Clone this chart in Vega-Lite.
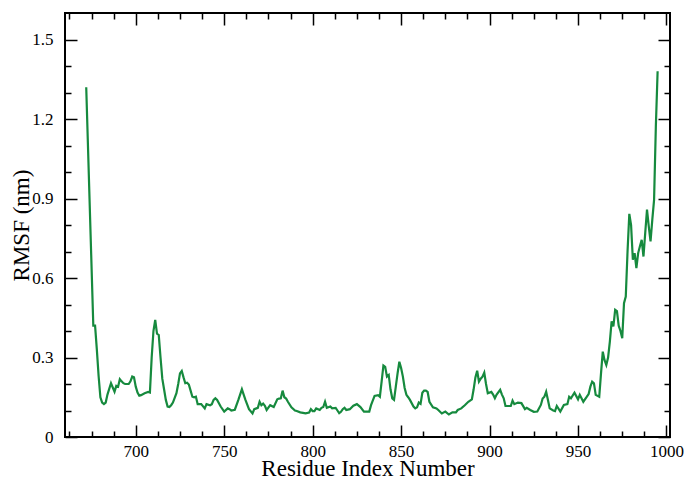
{
  "$schema": "https://vega.github.io/schema/vega-lite/v6.json",
  "autosize": "none",
  "padding": {"left": 65, "top": 13, "right": 16, "bottom": 42},
  "width": 605,
  "height": 424,
  "background": "white",
  "config": {
    "font": "Liberation Serif",
    "view": {"stroke": "black", "strokeWidth": 2},
    "axis": {"grid": false, "domain": false, "labelFont": "Liberation Serif", "titleFont": "Liberation Serif", "labelColor": "black", "titleColor": "black", "tickColor": "black", "labelFontSize": 17, "titleFontSize": 23, "titleFontWeight": "normal", "tickWidth": 1.5}
  },
  "data": {"values": [
    {"residue": 672, "rmsf": 1.32}, {"residue": 676, "rmsf": 0.42}, {"residue": 677, "rmsf": 0.42}, {"residue": 678, "rmsf": 0.33},
    {"residue": 679, "rmsf": 0.23}, {"residue": 680, "rmsf": 0.15}, {"residue": 681, "rmsf": 0.13}, {"residue": 682, "rmsf": 0.124},
    {"residue": 683, "rmsf": 0.13}, {"residue": 684, "rmsf": 0.16}, {"residue": 686, "rmsf": 0.203}, {"residue": 688, "rmsf": 0.171},
    {"residue": 689, "rmsf": 0.193}, {"residue": 690, "rmsf": 0.19}, {"residue": 691, "rmsf": 0.218}, {"residue": 692, "rmsf": 0.21},
    {"residue": 693, "rmsf": 0.203}, {"residue": 694, "rmsf": 0.2}, {"residue": 696, "rmsf": 0.2}, {"residue": 697, "rmsf": 0.21},
    {"residue": 698, "rmsf": 0.228}, {"residue": 699, "rmsf": 0.225}, {"residue": 700, "rmsf": 0.19}, {"residue": 701, "rmsf": 0.168},
    {"residue": 702, "rmsf": 0.156}, {"residue": 703, "rmsf": 0.158}, {"residue": 705, "rmsf": 0.165}, {"residue": 707, "rmsf": 0.17},
    {"residue": 708, "rmsf": 0.168}, {"residue": 709, "rmsf": 0.3}, {"residue": 710, "rmsf": 0.4}, {"residue": 711, "rmsf": 0.442},
    {"residue": 712, "rmsf": 0.39}, {"residue": 713, "rmsf": 0.385}, {"residue": 714, "rmsf": 0.3}, {"residue": 715, "rmsf": 0.22},
    {"residue": 716, "rmsf": 0.18}, {"residue": 717, "rmsf": 0.14}, {"residue": 718, "rmsf": 0.115}, {"residue": 719, "rmsf": 0.113},
    {"residue": 720, "rmsf": 0.12}, {"residue": 721, "rmsf": 0.13}, {"residue": 722, "rmsf": 0.148}, {"residue": 723, "rmsf": 0.165},
    {"residue": 724, "rmsf": 0.2}, {"residue": 725, "rmsf": 0.24}, {"residue": 726, "rmsf": 0.249}, {"residue": 727, "rmsf": 0.225},
    {"residue": 728, "rmsf": 0.203}, {"residue": 729, "rmsf": 0.205}, {"residue": 730, "rmsf": 0.198}, {"residue": 731, "rmsf": 0.175},
    {"residue": 732, "rmsf": 0.152}, {"residue": 733, "rmsf": 0.15}, {"residue": 734, "rmsf": 0.152}, {"residue": 735, "rmsf": 0.124},
    {"residue": 737, "rmsf": 0.124}, {"residue": 739, "rmsf": 0.108}, {"residue": 740, "rmsf": 0.124}, {"residue": 742, "rmsf": 0.12},
    {"residue": 743, "rmsf": 0.124}, {"residue": 744, "rmsf": 0.14}, {"residue": 745, "rmsf": 0.146}, {"residue": 746, "rmsf": 0.14},
    {"residue": 748, "rmsf": 0.115}, {"residue": 750, "rmsf": 0.096}, {"residue": 752, "rmsf": 0.108}, {"residue": 753, "rmsf": 0.105},
    {"residue": 754, "rmsf": 0.1}, {"residue": 756, "rmsf": 0.103}, {"residue": 758, "rmsf": 0.14}, {"residue": 760, "rmsf": 0.18},
    {"residue": 761, "rmsf": 0.16}, {"residue": 762, "rmsf": 0.14}, {"residue": 764, "rmsf": 0.105}, {"residue": 766, "rmsf": 0.089},
    {"residue": 767, "rmsf": 0.105}, {"residue": 769, "rmsf": 0.11}, {"residue": 770, "rmsf": 0.133}, {"residue": 771, "rmsf": 0.12},
    {"residue": 772, "rmsf": 0.126}, {"residue": 773, "rmsf": 0.118}, {"residue": 774, "rmsf": 0.102}, {"residue": 776, "rmsf": 0.12},
    {"residue": 778, "rmsf": 0.113}, {"residue": 780, "rmsf": 0.142}, {"residue": 781, "rmsf": 0.145}, {"residue": 782, "rmsf": 0.146},
    {"residue": 783, "rmsf": 0.175}, {"residue": 784, "rmsf": 0.15}, {"residue": 785, "rmsf": 0.145}, {"residue": 786, "rmsf": 0.133},
    {"residue": 788, "rmsf": 0.112}, {"residue": 790, "rmsf": 0.1}, {"residue": 791, "rmsf": 0.098}, {"residue": 793, "rmsf": 0.093},
    {"residue": 796, "rmsf": 0.089}, {"residue": 798, "rmsf": 0.092}, {"residue": 799, "rmsf": 0.105}, {"residue": 800, "rmsf": 0.098},
    {"residue": 801, "rmsf": 0.098}, {"residue": 802, "rmsf": 0.108}, {"residue": 804, "rmsf": 0.102}, {"residue": 805, "rmsf": 0.11},
    {"residue": 806, "rmsf": 0.113}, {"residue": 807, "rmsf": 0.133}, {"residue": 808, "rmsf": 0.11}, {"residue": 810, "rmsf": 0.115},
    {"residue": 811, "rmsf": 0.108}, {"residue": 813, "rmsf": 0.11}, {"residue": 814, "rmsf": 0.1}, {"residue": 815, "rmsf": 0.09},
    {"residue": 816, "rmsf": 0.095}, {"residue": 817, "rmsf": 0.105}, {"residue": 818, "rmsf": 0.11}, {"residue": 819, "rmsf": 0.102},
    {"residue": 821, "rmsf": 0.105}, {"residue": 823, "rmsf": 0.118}, {"residue": 825, "rmsf": 0.124}, {"residue": 827, "rmsf": 0.113},
    {"residue": 829, "rmsf": 0.096}, {"residue": 832, "rmsf": 0.096}, {"residue": 833, "rmsf": 0.12}, {"residue": 835, "rmsf": 0.155},
    {"residue": 837, "rmsf": 0.158}, {"residue": 838, "rmsf": 0.152}, {"residue": 839, "rmsf": 0.21}, {"residue": 840, "rmsf": 0.27},
    {"residue": 841, "rmsf": 0.265}, {"residue": 842, "rmsf": 0.228}, {"residue": 843, "rmsf": 0.234}, {"residue": 844, "rmsf": 0.18},
    {"residue": 845, "rmsf": 0.146}, {"residue": 846, "rmsf": 0.14}, {"residue": 847, "rmsf": 0.19}, {"residue": 848, "rmsf": 0.24},
    {"residue": 849, "rmsf": 0.284}, {"residue": 850, "rmsf": 0.26}, {"residue": 851, "rmsf": 0.228}, {"residue": 852, "rmsf": 0.185},
    {"residue": 853, "rmsf": 0.159}, {"residue": 854, "rmsf": 0.15}, {"residue": 855, "rmsf": 0.14}, {"residue": 857, "rmsf": 0.115},
    {"residue": 858, "rmsf": 0.108}, {"residue": 859, "rmsf": 0.112}, {"residue": 860, "rmsf": 0.13}, {"residue": 861, "rmsf": 0.125},
    {"residue": 862, "rmsf": 0.167}, {"residue": 863, "rmsf": 0.175}, {"residue": 864, "rmsf": 0.175}, {"residue": 865, "rmsf": 0.17},
    {"residue": 866, "rmsf": 0.133}, {"residue": 868, "rmsf": 0.112}, {"residue": 870, "rmsf": 0.108}, {"residue": 871, "rmsf": 0.102},
    {"residue": 873, "rmsf": 0.089}, {"residue": 875, "rmsf": 0.096}, {"residue": 877, "rmsf": 0.085}, {"residue": 879, "rmsf": 0.093},
    {"residue": 881, "rmsf": 0.093}, {"residue": 882, "rmsf": 0.102}, {"residue": 884, "rmsf": 0.108}, {"residue": 886, "rmsf": 0.12},
    {"residue": 888, "rmsf": 0.133}, {"residue": 890, "rmsf": 0.142}, {"residue": 891, "rmsf": 0.18}, {"residue": 892, "rmsf": 0.225},
    {"residue": 893, "rmsf": 0.25}, {"residue": 894, "rmsf": 0.209}, {"residue": 895, "rmsf": 0.22}, {"residue": 896, "rmsf": 0.228},
    {"residue": 897, "rmsf": 0.243}, {"residue": 898, "rmsf": 0.2}, {"residue": 899, "rmsf": 0.165}, {"residue": 901, "rmsf": 0.17},
    {"residue": 902, "rmsf": 0.16}, {"residue": 903, "rmsf": 0.146}, {"residue": 904, "rmsf": 0.16}, {"residue": 906, "rmsf": 0.178},
    {"residue": 907, "rmsf": 0.16}, {"residue": 908, "rmsf": 0.146}, {"residue": 909, "rmsf": 0.117}, {"residue": 911, "rmsf": 0.117},
    {"residue": 912, "rmsf": 0.117}, {"residue": 913, "rmsf": 0.137}, {"residue": 914, "rmsf": 0.124}, {"residue": 916, "rmsf": 0.13},
    {"residue": 918, "rmsf": 0.128}, {"residue": 920, "rmsf": 0.105}, {"residue": 921, "rmsf": 0.11}, {"residue": 923, "rmsf": 0.102},
    {"residue": 925, "rmsf": 0.095}, {"residue": 927, "rmsf": 0.096}, {"residue": 929, "rmsf": 0.121}, {"residue": 930, "rmsf": 0.145},
    {"residue": 931, "rmsf": 0.152}, {"residue": 932, "rmsf": 0.171}, {"residue": 933, "rmsf": 0.14}, {"residue": 934, "rmsf": 0.108},
    {"residue": 936, "rmsf": 0.1}, {"residue": 937, "rmsf": 0.098}, {"residue": 938, "rmsf": 0.117}, {"residue": 940, "rmsf": 0.096},
    {"residue": 942, "rmsf": 0.121}, {"residue": 944, "rmsf": 0.124}, {"residue": 945, "rmsf": 0.152}, {"residue": 946, "rmsf": 0.146},
    {"residue": 948, "rmsf": 0.167}, {"residue": 950, "rmsf": 0.142}, {"residue": 951, "rmsf": 0.159}, {"residue": 953, "rmsf": 0.133},
    {"residue": 955, "rmsf": 0.152}, {"residue": 956, "rmsf": 0.162}, {"residue": 957, "rmsf": 0.19}, {"residue": 958, "rmsf": 0.209},
    {"residue": 959, "rmsf": 0.203}, {"residue": 960, "rmsf": 0.159}, {"residue": 962, "rmsf": 0.152}, {"residue": 963, "rmsf": 0.24},
    {"residue": 964, "rmsf": 0.322}, {"residue": 965, "rmsf": 0.29}, {"residue": 966, "rmsf": 0.272}, {"residue": 967, "rmsf": 0.3},
    {"residue": 968, "rmsf": 0.36}, {"residue": 969, "rmsf": 0.436}, {"residue": 970, "rmsf": 0.417}, {"residue": 971, "rmsf": 0.48},
    {"residue": 972, "rmsf": 0.475}, {"residue": 973, "rmsf": 0.42}, {"residue": 974, "rmsf": 0.4}, {"residue": 975, "rmsf": 0.373},
    {"residue": 976, "rmsf": 0.505}, {"residue": 977, "rmsf": 0.53}, {"residue": 978, "rmsf": 0.7}, {"residue": 979, "rmsf": 0.842},
    {"residue": 980, "rmsf": 0.8}, {"residue": 981, "rmsf": 0.669}, {"residue": 982, "rmsf": 0.694}, {"residue": 983, "rmsf": 0.637},
    {"residue": 984, "rmsf": 0.694}, {"residue": 985, "rmsf": 0.72}, {"residue": 986, "rmsf": 0.744}, {"residue": 987, "rmsf": 0.681},
    {"residue": 988, "rmsf": 0.77}, {"residue": 989, "rmsf": 0.858}, {"residue": 990, "rmsf": 0.795}, {"residue": 991, "rmsf": 0.738},
    {"residue": 992, "rmsf": 0.82}, {"residue": 993, "rmsf": 0.895}, {"residue": 994, "rmsf": 1.172}, {"residue": 995, "rmsf": 1.38}
  ]},
  "resolve": {"axis": {"x": "independent", "y": "independent"}},
  "layer": [
    {
      "mark": {"type": "line", "color": "#168a3e", "strokeWidth": 2.2, "clip": true},
      "encoding": {
        "x": {"field": "residue", "type": "quantitative", "scale": {"domain": [660, 1002], "nice": false, "zero": false},
              "axis": {"orient": "bottom", "title": "Residue Index Number", "values": [700, 750, 800, 850, 900, 950, 1000], "format": "d", "ticks": false, "labelPadding": 6, "labelFont": "Liberation Serif", "labelFontSize": 17, "titleFont": "Liberation Serif", "titleFontSize": 23, "titleBaseline": "alphabetic", "titleY": 38, "labelFlush": false}},
        "y": {"field": "rmsf", "type": "quantitative", "scale": {"domain": [0, 1.6], "nice": false},
              "axis": {"orient": "left", "title": "RMSF (nm)", "values": [0, 0.3, 0.6, 0.9, 1.2, 1.5], "format": "~g", "ticks": false, "labelPadding": 12, "labelFont": "Liberation Serif", "labelFontSize": 17, "titleFont": "Liberation Serif", "titleFontSize": 23, "titleBaseline": "alphabetic", "titleX": -37, "titleY": 212, "labelFlush": false}}
      }
    },
    {
      "mark": {"type": "line", "opacity": 0},
      "encoding": {
        "x": {"field": "residue", "type": "quantitative", "axis": {"orient": "bottom", "title": null, "labels": false, "values": [700, 750, 800, 850, 900, 950, 1000], "tickSize": -12}},
        "y": {"field": "rmsf", "type": "quantitative", "axis": {"orient": "left", "title": null, "labels": false, "values": [0, 0.3, 0.6, 0.9, 1.2, 1.5], "tickSize": -12}}
      }
    },
    {
      "mark": {"type": "line", "opacity": 0},
      "encoding": {
        "x": {"field": "residue", "type": "quantitative", "axis": {"orient": "bottom", "title": null, "labels": false, "values": [662.5, 675, 687.5, 712.5, 725, 737.5, 762.5, 775, 787.5, 812.5, 825, 837.5, 862.5, 875, 887.5, 912.5, 925, 937.5, 962.5, 975, 987.5], "tickSize": -6}},
        "y": {"field": "rmsf", "type": "quantitative", "axis": {"orient": "left", "title": null, "labels": false, "values": [0.1, 0.2, 0.4, 0.5, 0.7, 0.8, 1.0, 1.1, 1.3, 1.4], "tickSize": -6}}
      }
    },
    {
      "mark": {"type": "line", "opacity": 0},
      "encoding": {
        "x": {"field": "residue", "type": "quantitative", "axis": {"orient": "top", "title": null, "labels": false, "values": [700, 750, 800, 850, 900, 950, 1000], "tickSize": -12}},
        "y": {"field": "rmsf", "type": "quantitative", "axis": {"orient": "right", "title": null, "labels": false, "values": [0, 0.3, 0.6, 0.9, 1.2, 1.5], "tickSize": -12}}
      }
    },
    {
      "mark": {"type": "line", "opacity": 0},
      "encoding": {
        "x": {"field": "residue", "type": "quantitative", "axis": {"orient": "top", "title": null, "labels": false, "values": [662.5, 675, 687.5, 712.5, 725, 737.5, 762.5, 775, 787.5, 812.5, 825, 837.5, 862.5, 875, 887.5, 912.5, 925, 937.5, 962.5, 975, 987.5], "tickSize": -6}},
        "y": {"field": "rmsf", "type": "quantitative", "axis": {"orient": "right", "title": null, "labels": false, "values": [0.1, 0.2, 0.4, 0.5, 0.7, 0.8, 1.0, 1.1, 1.3, 1.4], "tickSize": -6}}
      }
    }
  ]
}
